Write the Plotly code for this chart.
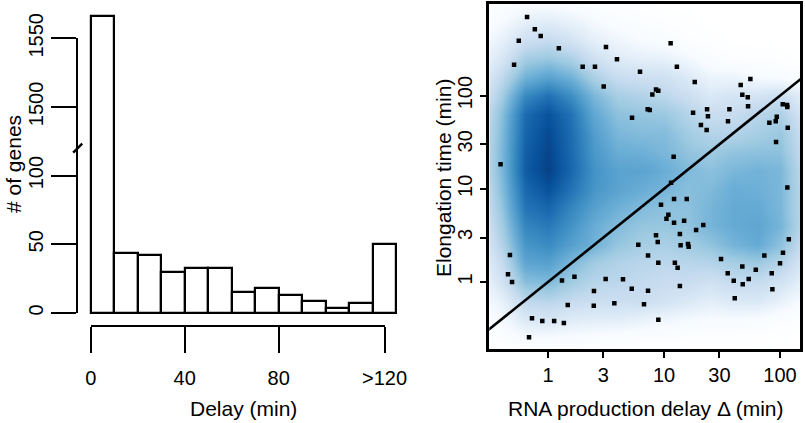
import plotly.graph_objects as go

W, H = 805, 423
FONT = "Liberation Sans, Arial, Helvetica, sans-serif"

# ---------------- left panel data: histogram of delays ----------------
bin_edges = [0, 10, 20, 30, 40, 50, 60, 70, 80, 90, 100, 110, 120, 130]
gene_counts = [1566, 44, 42, 30, 33, 33, 15, 18, 13, 9, 4, 7, 50]
count_ticks = [0, 50, 100, 1500, 1550]
delay_ticks = [0, 40, 80, 125]
delay_tick_text = ["0", "40", "80", ">120"]
GAP_LOW, GAP_HIGH = 120, 1470   # broken y axis

# ---------------- right panel data ----------------
# outlier points (RNA production delay, elongation time), minutes
delay_pts = [0.66, 0.77, 0.865, 0.56, 1.24, 3.16, 3.93, 0.51, 1.99, 2.54, 6.21, 3.02, 5.30, 0.39,
             11.4, 12.9, 18.4, 7.93, 8.53, 8.93, 7.23, 7.53, 17.8, 23.5, 23.9, 20.8, 23.3, 36.6,
             35.6, 45.8, 55.5, 47.3, 52.7, 53.0, 105.5, 115.0, 115.6, 93.7, 91.8, 80.9, 116.5, 92.4,
             12.1, 0.47, 0.452, 0.49, 0.728, 0.893, 1.13, 1.37, 0.686, 1.32, 1.69, 1.48, 2.49, 2.48,
             3.14, 3.73, 4.43, 5.27, 6.0, 6.72, 115.6, 12.2, 15.7, 9.42, 10.9, 10.5, 12.2, 14.9,
             21.8, 18.9, 13.7, 8.53, 8.83, 13.9, 16.1, 16.3, 119.0, 7.28, 8.93, 12.4, 13.1, 31.0,
             73.2, 106.0, 100.0, 47.3, 61.8, 35.4, 84.8, 39.9, 53.7, 47.7, 85.9, 7.28, 13.7, 40.7, 8.93,
             11.5]
elong_pts = [697, 514, 436, 388, 322, 332, 245, 215, 204, 204, 180, 125, 58, 18.3,
             364, 204, 140, 103, 116, 113, 71.3, 70, 65.6, 71.3, 60, 48.4, 42.8, 71.3,
             53, 130, 151, 102, 95.9, 76.8, 80.7, 79.3, 75.5, 59.4, 53, 51.2, 45.3, 31.8,
             22.1, 1.95, 1.21, 1.0, 0.408, 0.382, 0.382, 0.363, 0.255, 1.04, 1.14, 0.567, 0.80, 0.557,
             1.08, 0.59, 1.07, 0.848, 2.51, 0.576, 10.3, 7.78, 7.78, 6.75, 5.27, 4.78, 4.33, 4.55,
             4.09, 3.61, 3.27, 3.17, 2.69, 2.48, 2.56, 2.39, 2.87, 1.92, 1.61, 1.61, 1.42, 1.77,
             1.93, 2.06, 1.59, 1.47, 1.35, 1.24, 1.24, 1.03, 1.08, 0.945, 0.835, 0.807, 0.906, 0.668, 0.394,
             11.6]
log_ticks = [1, 3, 10, 30, 100]
identity_line = [0.1, 1000]

# smoothed density (0..1), on a grid of log10 positions
grid_logx = [-0.6, -0.4, -0.2, 0.0, 0.2, 0.4, 0.6, 0.8, 1.0, 1.2, 1.4, 1.6, 1.8, 2.0, 2.2]
grid_logy = [-0.8, -0.6, -0.4, -0.2, 0.0, 0.2, 0.4, 0.6, 0.8, 1.0, 1.2, 1.4, 1.6, 1.8, 2.0,
             2.2, 2.4, 2.6, 2.8, 3.0]
density = [
    [0, 0, 0, 0, 0, 0, 0, 0, 0, 0, 0, 0, 0, 0, 0],
    [0.02, 0.05, 0.11, 0.11, 0.10, 0.08, 0.07, 0.06, 0.05, 0.04, 0.03, 0.03, 0.02, 0.01, 0],
    [0.05, 0.12, 0.24, 0.26, 0.22, 0.21, 0.21, 0.18, 0.15, 0.13, 0.11, 0.11, 0.10, 0.07, 0.03],
    [0.09, 0.18, 0.35, 0.37, 0.33, 0.31, 0.31, 0.31, 0.28, 0.24, 0.2, 0.24, 0.24, 0.18, 0.1],
    [0.13, 0.27, 0.49, 0.51, 0.43, 0.37, 0.36, 0.34, 0.32, 0.32, 0.29, 0.33, 0.33, 0.28, 0.18],
    [0.16, 0.32, 0.59, 0.61, 0.51, 0.43, 0.39, 0.37, 0.36, 0.37, 0.38, 0.42, 0.44, 0.38, 0.25],
    [0.19, 0.38, 0.65, 0.69, 0.61, 0.54, 0.46, 0.42, 0.41, 0.43, 0.47, 0.53, 0.57, 0.48, 0.31],
    [0.21, 0.42, 0.71, 0.75, 0.66, 0.56, 0.50, 0.46, 0.46, 0.47, 0.53, 0.57, 0.59, 0.53, 0.35],
    [0.23, 0.46, 0.77, 0.82, 0.71, 0.61, 0.55, 0.51, 0.48, 0.48, 0.53, 0.57, 0.57, 0.52, 0.35],
    [0.25, 0.49, 0.81, 0.89, 0.77, 0.65, 0.60, 0.56, 0.53, 0.49, 0.51, 0.56, 0.55, 0.52, 0.35],
    [0.27, 0.51, 0.85, 0.94, 0.81, 0.66, 0.60, 0.60, 0.56, 0.51, 0.48, 0.52, 0.54, 0.52, 0.34],
    [0.27, 0.51, 0.84, 0.93, 0.80, 0.64, 0.56, 0.55, 0.52, 0.47, 0.44, 0.47, 0.48, 0.48, 0.32],
    [0.26, 0.50, 0.82, 0.91, 0.79, 0.62, 0.52, 0.50, 0.50, 0.43, 0.38, 0.38, 0.42, 0.45, 0.30],
    [0.25, 0.48, 0.80, 0.88, 0.77, 0.58, 0.48, 0.46, 0.45, 0.38, 0.32, 0.32, 0.37, 0.40, 0.26],
    [0.22, 0.42, 0.70, 0.78, 0.68, 0.52, 0.42, 0.39, 0.36, 0.31, 0.24, 0.27, 0.27, 0.31, 0.20],
    [0.18, 0.34, 0.54, 0.60, 0.54, 0.40, 0.32, 0.30, 0.29, 0.23, 0.16, 0.16, 0.12, 0.10, 0.06],
    [0.13, 0.25, 0.42, 0.45, 0.40, 0.29, 0.22, 0.19, 0.18, 0.13, 0.07, 0.05, 0.04, 0.03, 0],
    [0.09, 0.18, 0.30, 0.33, 0.27, 0.19, 0.15, 0.11, 0.09, 0.05, 0.03, 0, 0, 0, 0],
    [0.05, 0.11, 0.19, 0.21, 0.17, 0.12, 0.08, 0.06, 0.04, 0.02, 0, 0, 0, 0, 0],
    [0.01, 0.05, 0.09, 0.09, 0.07, 0.04, 0.03, 0.02, 0, 0, 0, 0, 0, 0, 0],
]
blues = [[0.0, "#FFFFFF"], [0.111, "#F7FBFF"], [0.222, "#DEEBF7"], [0.333, "#C6DBEF"],
         [0.444, "#9ECAE1"], [0.556, "#6BAED6"], [0.667, "#4292C6"], [0.778, "#2171B5"],
         [0.889, "#08519C"], [1.0, "#08306B"]]


def shown(v):
    return v if v <= GAP_LOW else v - (GAP_HIGH - GAP_LOW)


def xd(a, b):
    return [a / W, b / W]


def yd(top, bottom):
    return [(H - bottom) / H, (H - top) / H]


centers = [(bin_edges[i] + bin_edges[i + 1]) / 2 for i in range(len(gene_counts))]
widths = [bin_edges[i + 1] - bin_edges[i] for i in range(len(gene_counts))]

fig = go.Figure()
fig.add_trace(go.Bar(x=centers, y=[shown(c) for c in gene_counts], width=widths,
                     marker=dict(color="white", line=dict(color="black", width=2.2)),
                     xaxis="x", yaxis="y", hoverinfo="skip"))
# axis-break mark on the left y axis
fig.add_trace(go.Scatter(x=[0], y=[GAP_LOW], mode="markers", cliponaxis=False,
                         marker=dict(symbol="line-ne", size=9, line=dict(width=2.5, color="black")),
                         xaxis="x4", yaxis="y4", hoverinfo="skip"))
fig.add_trace(go.Scatter(x=[], y=[], xaxis="x5", yaxis="y5"))

fig.add_trace(go.Heatmap(x=grid_logx, y=grid_logy, z=density, colorscale=blues, zmin=0, zmax=1,
                         zsmooth="best", showscale=False, xaxis="x2", yaxis="y2", hoverinfo="skip"))
fig.add_trace(go.Scatter(x=identity_line, y=identity_line, mode="lines",
                         line=dict(color="black", width=2.6), xaxis="x3", yaxis="y3"))
fig.add_trace(go.Scatter(x=delay_pts, y=elong_pts, mode="markers",
                         marker=dict(symbol="square", size=4.5, color="black", line=dict(width=0)),
                         xaxis="x3", yaxis="y3"))

hidden = dict(visible=False, showgrid=False, zeroline=False, automargin=False)
tick_font = dict(family=FONT, size=20, color="black")
axis_common = dict(showgrid=False, zeroline=False, showline=True, linecolor="black",
                   ticks="outside", tickcolor="black", tickfont=tick_font, automargin=False)

XR = [-0.506, 2.172]
YR = [-0.7135, 2.983]

fig.update_layout(
    template="none",
    width=W, height=H, margin=dict(l=0, r=0, t=0, b=0, pad=0, autoexpand=False),
    paper_bgcolor="white", plot_bgcolor="rgba(0,0,0,0)", showlegend=False,
    font=dict(family=FONT, size=20, color="black"),
    bargap=0,
    xaxis=dict(domain=xd(86, 401), range=[-2, 132], anchor="y", **hidden),
    yaxis=dict(domain=yd(10, 316), range=[-2.18, 220.4], anchor="x", **hidden),
    xaxis4=dict(domain=xd(77.7, 95), range=[0, 1], anchor="y4", **hidden),
    yaxis4=dict(domain=yd(38.3, 313), range=[0, 200], anchor="x4",
                tickvals=[shown(v) for v in count_ticks], ticktext=[str(v) for v in count_ticks],
                tickangle=-90, ticklen=25, tickwidth=2.2, linewidth=2.2, **axis_common),
    xaxis5=dict(domain=xd(90.7, 384.5), range=[0, 125], anchor="y5",
                tickvals=delay_ticks, ticktext=delay_tick_text, ticklen=26, tickwidth=2.2,
                linewidth=2.2, ticklabelstandoff=8, **axis_common),
    yaxis5=dict(domain=yd(300, 325), range=[0, 1], anchor="x5", **hidden),
    xaxis2=dict(domain=xd(489.3, 800), range=XR, anchor="y2", **hidden),
    yaxis2=dict(domain=yd(4, 348.5), range=YR, anchor="x2", **hidden),
    xaxis3=dict(type="log", overlaying="x2", anchor="y3", range=XR, mirror=True,
                tickvals=log_ticks, ticktext=[str(v) for v in log_ticks],
                ticklen=7, tickwidth=2, linewidth=2.6, **axis_common),
    yaxis3=dict(type="log", overlaying="y2", anchor="x3", range=YR, mirror=True,
                tickvals=log_ticks, ticktext=[str(v) for v in log_ticks], tickangle=-90,
                ticklen=7, tickwidth=2, linewidth=2.6, **axis_common),
)

title_font = dict(family=FONT, size=21, color="black")
for text, x, y, ang in [("# of genes", 13, 164, -90), ("Delay (min)", 243, 408, 0),
                        ("Elongation time (min)", 443, 178, -90),
                        ("RNA production delay \u0394 (min)", 645, 408, 0)]:
    fig.add_annotation(text=text, x=x / W, y=(H - y) / H, xref="paper", yref="paper",
                       xanchor="center", yanchor="middle", showarrow=False,
                       textangle=ang, font=title_font)

fig.write_html("out.html", config={"displayModeBar": False},
               post_script="document.body.style.margin='0';document.body.style.overflow='hidden';")
